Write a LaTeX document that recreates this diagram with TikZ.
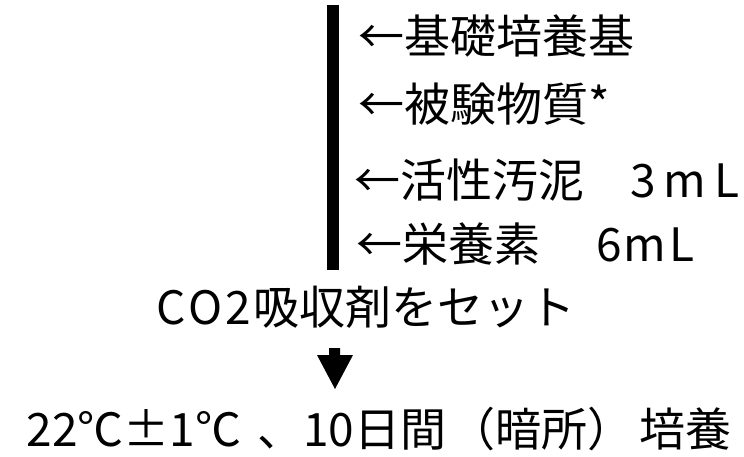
\documentclass[tikz,border=0pt]{standalone}
\usepackage{fontspec}
\newfontfamily\jp{Noto Sans CJK JP}
\begin{document}
\begin{tikzpicture}[x=1pt,y=-1pt,
  lbl/.style={inner sep=0pt,font=\jp\fontsize{46}{50}\selectfont},
  bar/.style={line width=12pt},
  arrowfill/.style={fill=black,draw=none}]
\useasboundingbox (0,0) rectangle (744,456);
\coordinate (bartop) at (333,5);
\coordinate (barbot) at (333,270);
\draw[bar] (bartop) -- (barbot);
\node[lbl,anchor=base west] (l1) at (358,53) {←基礎培養基};
\node[lbl,anchor=base west] (l2) at (358,121) {←被験物質*};
\node[lbl,anchor=base west] (l3) at (354,197) {←活性汚泥　3\hspace{8pt}m\hspace{8pt}L};
\node[lbl,anchor=base west] (l4) at (356,261) {←栄養素　\hspace{10pt}6\hspace{2pt}m\hspace{3pt}L};
\node[lbl,anchor=base] (co2) at (366,324) {C\hspace{3pt}O\hspace{3pt}2\hspace{2pt}吸収剤をセット};
\node[lbl,anchor=base] (res) at (379,446) {22℃±1℃\hspace{16pt}、10日間\hspace{3pt}（暗所）\hspace{6pt}培養};
\fill[arrowfill] (329,348) -- (340,348) -- (340,355) -- (353,355) -- (335,389) -- (317,355) -- (329,355) -- cycle;
\end{tikzpicture}
\end{document}
